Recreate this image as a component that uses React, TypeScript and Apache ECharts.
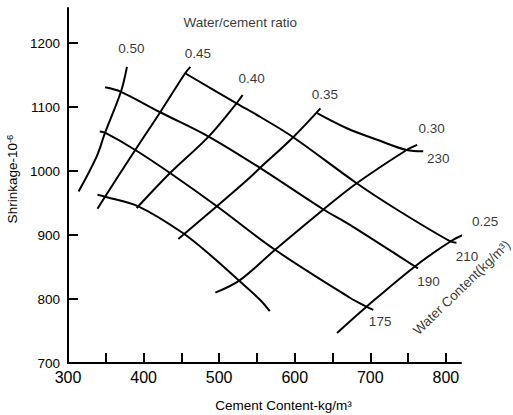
import { useEffect, useRef } from 'react';
import * as echarts from 'echarts';

// Axis ticks / labels
const xLabelValues = [300, 400, 500, 600, 700, 800];
const xTickValues = [350, 400, 450, 500, 550, 600, 650, 700, 750, 800];
const yLabelValues = [700, 800, 900, 1000, 1100, 1200];
const yTickValues = [800, 900, 1000, 1100, 1200];

// Water/cement ratio curves [cement content, shrinkage]
const ratio050 = [[378, 1163], [370, 1124], [349, 1060], [338, 1023], [314, 968]];
const ratio045 = [[462, 1163], [455, 1153], [422, 1092], [389, 1033], [349, 960], [339, 941]];
const ratio040 = [[531, 1119], [523, 1106], [486, 1054], [435, 997], [393, 945], [391, 942]];
const ratio035 = [[634, 1098], [598, 1053], [554, 1005], [537, 986], [497, 945], [446, 894]];
const ratio030 = [[762, 1041], [748, 1033], [682, 981], [638, 940], [574, 877], [528, 830], [495, 810]];
const ratio025 = [[828, 903], [806, 890], [759, 851], [695, 788], [656, 747]];

// Water content curves [cement content, shrinkage]
const water230 = [[629, 1091], [669, 1067], [709, 1049], [748, 1033], [770, 1031]];
const water210 = [[455, 1153], [523, 1106], [554, 1085], [598, 1053], [682, 981], [735, 940], [806, 890], [814, 888]];
const water190 = [[349, 1131], [370, 1124], [422, 1092], [486, 1054], [554, 1005], [638, 940], [673, 916], [759, 851], [763, 848]];
const water175 = [[342, 1062], [349, 1060], [389, 1033], [435, 997], [497, 945], [574, 877], [673, 802], [695, 788], [704, 783]];
const waterLow = [[339, 963], [349, 960], [393, 945], [451, 904], [492, 865], [525, 830], [554, 799], [567, 781]];

// Curve labels
const ratioNames = ['0.50', '0.45', '0.40', '0.35', '0.30', '0.25'];
const ratioLabelPos = [[384, 1192], [472, 1184], [543, 1145], [640, 1119], [781, 1067], [852, 922]];
const waterNames = ['230', '210', '190', '175'];
const waterLabelPos = [[790, 1019], [828, 867], [777, 828], [713, 765]];
const ratioTitle = 'Water/cement ratio';
const ratioTitlePos = [528, 1233];
const waterTitle = 'Water Content(kg/m³)';
const waterTitlePos = [821, 818];

const FONT = '"Liberation Sans", Arial, sans-serif';
const TEXT_SIZE = 13.5;

const curves = [ratio050, ratio045, ratio040, ratio035, ratio030, ratio025, water230, water210, water190, water175, waterLow];

export default function App() {
  const ref = useRef<HTMLDivElement>(null);
  useEffect(() => {
    const chart = echarts.init(ref.current as HTMLDivElement, null, { renderer: 'svg' });
    const labelData: any[] = [];
    ratioNames.forEach((n, i) => labelData.push({ name: n, value: ratioLabelPos[i] }));
    waterNames.forEach((n, i) => labelData.push({ name: n, value: waterLabelPos[i] }));
    labelData.push({ name: ratioTitle, value: ratioTitlePos });
    labelData.push({ name: waterTitle, value: waterTitlePos, label: { rotate: 44 } });

    chart.setOption({
      animation: false,
      backgroundColor: '#fff',
      grid: { left: 68, right: 52, top: 8, bottom: 52, containLabel: false, outerBoundsMode: 'none' },
      xAxis: {
        type: 'value',
        min: 300,
        max: 820,
        splitLine: { show: false },
        axisLine: { show: true, onZero: false, lineStyle: { color: '#000', width: 2 } },
        axisTick: { show: true, inside: true, length: 10, customValues: xTickValues, lineStyle: { color: '#000', width: 2 } },
        axisLabel: { customValues: xLabelValues, color: '#000', fontSize: 16, fontFamily: FONT, margin: 6, formatter: (v: number) => String(v) },
        name: 'Cement Content-kg/m³',
        nameLocation: 'middle',
        nameGap: 35,
        nameTextStyle: { color: '#000', fontSize: TEXT_SIZE, fontFamily: FONT, padding: [0, 0, 0, 38] },
      },
      yAxis: {
        type: 'value',
        min: 700,
        max: 1255,
        splitLine: { show: false },
        axisLine: { show: true, onZero: false, lineStyle: { color: '#000', width: 2 } },
        axisTick: { show: true, inside: true, length: 10, customValues: yTickValues, lineStyle: { color: '#000', width: 2 } },
        axisLabel: { customValues: yLabelValues, color: '#000', fontSize: TEXT_SIZE, fontFamily: FONT, margin: 8, formatter: (v: number) => String(v) },
        name: 'Shrinkage-10{s|-6}',
        nameLocation: 'middle',
        nameGap: 48,
        nameRotate: 90,
        nameTextStyle: {
          color: '#000', fontSize: TEXT_SIZE, fontFamily: FONT, padding: [0, 0, 0, 13],
          rich: { s: { fontSize: 9.5, fontFamily: FONT, color: '#000', verticalAlign: 'top', padding: [0, 0, 5, 0] } },
        },
      },
      series: [
        ...curves.map((d) => ({
          type: 'line',
          data: d,
          smooth: 0.35,
          symbol: 'none',
          clip: false,
          silent: true,
          lineStyle: { color: '#000', width: 2 },
          emphasis: { disabled: true },
        })),
        {
          type: 'scatter',
          data: labelData,
          symbolSize: 0,
          clip: false,
          silent: true,
          label: {
            show: true,
            position: 'inside',
            formatter: '{b}',
            color: '#000',
            fontSize: TEXT_SIZE,
            fontFamily: FONT,
          },
          emphasis: { disabled: true },
        },
      ],
    });
    return () => chart.dispose();
  }, []);
  return <div ref={ref} style={{ position: 'absolute', left: 0, top: 0, width: 513, height: 415, background: '#fff' }} />;
}
